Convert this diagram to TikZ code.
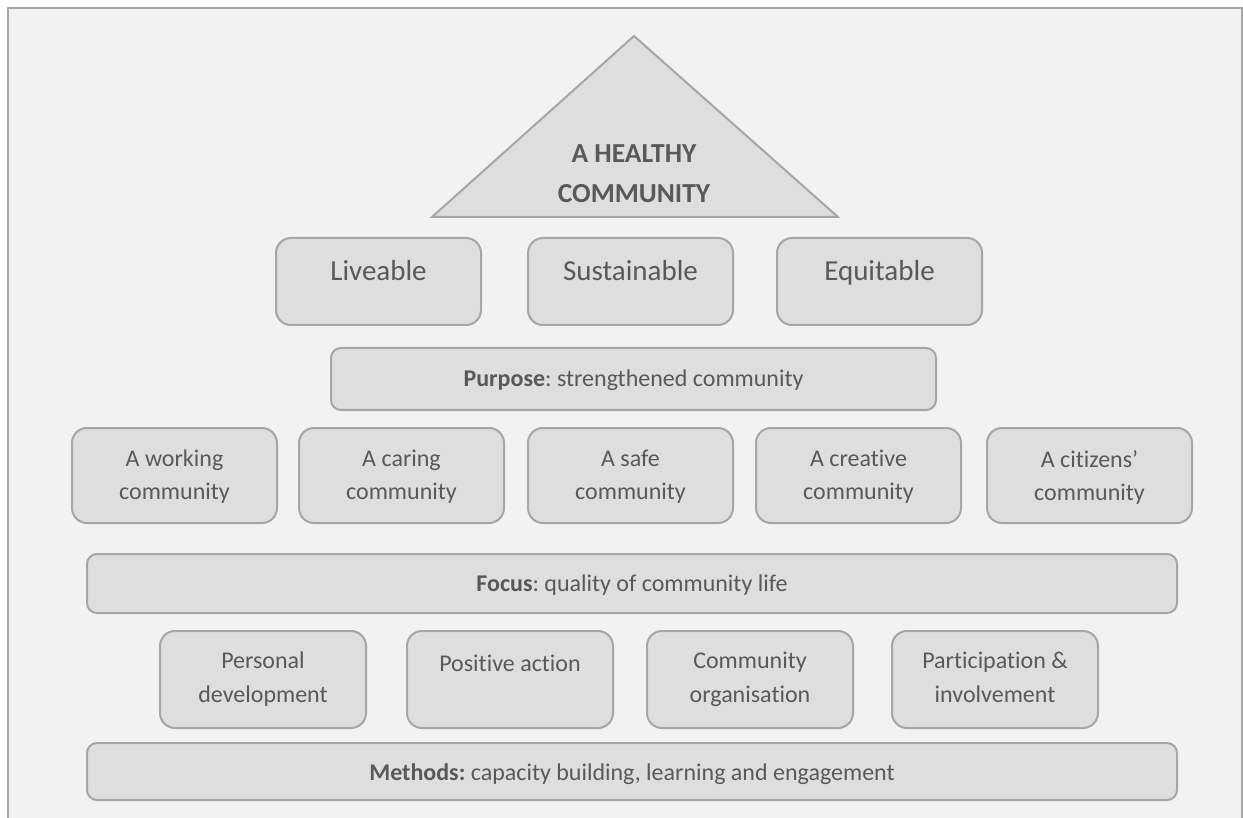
\documentclass[tikz,border=0pt]{standalone}
\usepackage{fontspec}
\setmainfont{Carlito}[Ligatures={TeX,NoCommon}]
\frenchspacing
\definecolor{framebg}{HTML}{F2F2F2}
\definecolor{boxfill}{HTML}{DEDEDE}
\definecolor{edge}{HTML}{A6A6A6}
\definecolor{ink}{HTML}{595959}
\begin{document}
\begin{tikzpicture}[x=1pt,y=-1pt,
  block/.style={draw=edge, fill=boxfill, line width=2pt, rounded corners=15pt,
    inner sep=0pt, minimum width=205pt},
  bar/.style={block, rounded corners=10pt},
  lbl/.style={text=ink, align=center, inner sep=0pt,
    execute at begin node=\strut, execute at end node=\strut},
  bigf/.style={font=\fontsize{29}{35}\selectfont},
  midf/.style={font=\fontsize{24}{33}\selectfont},
  lowf/.style={font=\fontsize{24}{34}\selectfont},
  barf/.style={font=\fontsize{24}{29}\selectfont},
  roof/.style={draw=edge, fill=boxfill, line width=2pt},
]
\useasboundingbox (0,0) rectangle (1243,818);
\clip (0,0) rectangle (1243,818);
\fill[white] (0,0) rectangle (1243,818);
% outer panel (open at the bottom)
\draw[draw=edge, fill=framebg, line width=2pt] (8,8) rectangle (1242,840);

% roof
\draw[roof] (432,217) -- (634,36) -- (838,217) -- cycle;
\node[lbl, font=\fontsize{27.5}{40}\selectfont\bfseries] (roof) at (634,180) {A HEALTHY\\COMMUNITY};

% qualities
\node[block, minimum height=87pt] (liv) at (378.5,281.5) {};
\node[block, minimum height=87pt] (sus) at (630.5,281.5) {};
\node[block, minimum height=87pt] (equ) at (879.5,281.5) {};
\node[lbl, bigf] (liv-t) at (378.5,274) {Liveable};
\node[lbl, bigf] (sus-t) at (630.5,274) {Sustainable};
\node[lbl, bigf] (equ-t) at (879.5,274) {Equitable};

% purpose
\node[bar, minimum width=605pt, minimum height=62pt] (pur) at (633.5,379) {};
\node[lbl, barf] (pur-t) at (633.5,381) {\textbf{Purpose}: strengthened community};

% communities
\node[block, minimum height=95pt] (c1) at (174.5,475.5) {};
\node[block, minimum height=95pt] (c2) at (401.5,475.5) {};
\node[block, minimum height=95pt] (c3) at (630.5,475.5) {};
\node[block, minimum height=95pt] (c4) at (858.5,475.5) {};
\node[block, minimum height=95pt] (c5) at (1089.5,475.5) {};
\node[lbl, midf] (c1-t) at (174.5,480) {A working\\community};
\node[lbl, midf] (c2-t) at (401.5,480) {A caring\\community};
\node[lbl, midf] (c3-t) at (630.5,480) {A safe\\community};
\node[lbl, midf] (c4-t) at (858.5,480) {A creative\\community};
\node[lbl, midf] (c5-t) at (1089.5,480) {A citizens’\\community};

% focus
\node[bar, minimum width=1090pt, minimum height=59pt] (foc) at (632,583.5) {};
\node[lbl, barf] (foc-t) at (632,586) {\textbf{Focus}: quality of community life};

% approaches
\node[block, minimum width=206pt, minimum height=97pt] (m1) at (263,679.5) {};
\node[block, minimum width=206pt, minimum height=97pt] (m2) at (510,679.5) {};
\node[block, minimum width=206pt, minimum height=97pt] (m3) at (750,679.5) {};
\node[block, minimum width=206pt, minimum height=97pt] (m4) at (995,679.5) {};
\node[lbl, lowf] (m1-t) at (263,682) {Personal\\development};
\node[lbl, lowf] (m2-t) at (510,665) {Positive action};
\node[lbl, lowf] (m3-t) at (750,682) {Community\\organisation};
\node[lbl, lowf] (m4-t) at (995,682) {Participation \&\\involvement};

% methods
\node[bar, minimum width=1090pt, minimum height=57pt] (met) at (632,771.5) {};
\node[lbl, barf] (met-t) at (632,775) {\textbf{Methods:} capacity building, learning and engagement};
\end{tikzpicture}
\end{document}
